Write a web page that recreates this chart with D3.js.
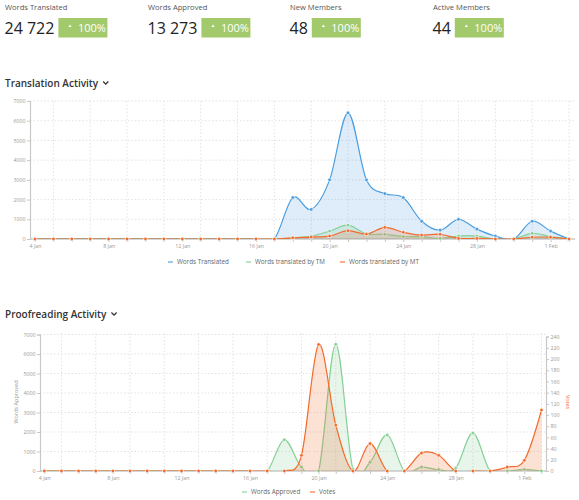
<!DOCTYPE html>
<html>
<head>
<meta charset="utf-8">
<script src="https://cdn.jsdelivr.net/npm/d3@7/dist/d3.min.js"></script>
<style>
	body { margin: 0; background: #fff; font-family: 'Open Sans', sans-serif; }
	svg text { font-family: 'Open Sans', sans-serif; }
</style>
</head>
<body>
<div id="wrap"></div>
<script>
// summary boxes
var statLabels = [ 'Words Translated', 'Words Approved', 'New Members', 'Active Members' ];
var statValues = [ '24 722', '13 273', '48', '44' ];
var statChange = [ '100%', '100%', '100%', '100%' ];

// days shown on both charts
var days = [
	'2020-01-04', '2020-01-05', '2020-01-06', '2020-01-07', '2020-01-08', '2020-01-09',
	'2020-01-10', '2020-01-11', '2020-01-12', '2020-01-13', '2020-01-14', '2020-01-15',
	'2020-01-16', '2020-01-17', '2020-01-18', '2020-01-19', '2020-01-20', '2020-01-21',
	'2020-01-22', '2020-01-23', '2020-01-24', '2020-01-25', '2020-01-26', '2020-01-27',
	'2020-01-28', '2020-01-29', '2020-01-30', '2020-01-31', '2020-02-01', '2020-02-02'
];

// translation activity
var wordsTranslated = [ 0, 0, 0, 0, 0, 0, 0, 0, 0, 0, 0, 0, 0, 0, 2100, 1500, 3000, 6400, 3000, 2300, 2100, 900, 450, 1000, 500, 150, 0, 900, 400, 0 ];
var translatedByTM = [ 0, 0, 0, 0, 0, 0, 0, 0, 0, 0, 0, 0, 0, 0, 50, 150, 400, 700, 260, 240, 120, 120, 30, 150, 150, 0, 0, 290, 120, 0 ];
var translatedByMT = [ 0, 0, 0, 0, 0, 0, 0, 0, 0, 0, 0, 0, 0, 0, 60, 100, 150, 420, 250, 590, 340, 200, 240, 30, 30, 0, 0, 90, 90, 0 ];
var translationTicks = [ 0, 1000, 2000, 3000, 4000, 5000, 6000, 7000 ];

// proofreading activity
var wordsApproved = [ 0, 0, 0, 0, 0, 0, 0, 0, 0, 0, 0, 0, 0, 0, 1600, 200, 0, 6500, 100, 450, 1850, 0, 200, 70, 150, 1950, 0, 0, 80, 0 ];
var votes = [ 0, 0, 0, 0, 0, 0, 0, 0, 0, 0, 0, 0, 0, 0, 0, 28, 226, 82, 0, 49, 0, 0, 32, 28, 0, 0, 0, 7, 19, 109 ];
var approvedTicks = [ 0, 1000, 2000, 3000, 4000, 5000, 6000, 7000 ];
var voteTicks = [ 0, 20, 40, 60, 80, 100, 120, 140, 160, 180, 200, 220, 240 ];

var colors = {
	blue: '#4a9de0',
	green: '#86cf96',
	orange: '#f26b2c',
	badge: '#a3c96d',
	axis: '#c8c8c8',
	grid: '#dcdcdc',
	label: '#999'
};

var parse = d3.utcParse( '%Y-%m-%d' );
var fmt = d3.utcFormat( '%-d %b' );
var dates = days.map( parse );

var svg = d3.select( '#wrap' ).append( 'svg' )
	.attr( 'width', 579 )
	.attr( 'height', 500 );

// ---- stat boxes ----
var statX = [ 5, 148, 290, 433 ];

statLabels.forEach( function ( lab, i ) {
	var g = svg.append( 'g' ).attr( 'transform', 'translate(' + statX[i] + ',0)' );
	g.append( 'text' )
		.attr( 'x', 0 ).attr( 'y', 10 )
		.style( 'font-size', '7.6px' )
		.style( 'fill', '#555' )
		.text( lab );
	var num = g.append( 'text' )
		.attr( 'x', -0.5 ).attr( 'y', 34 )
		.style( 'font-size', '16px' )
		.style( 'fill', '#222' )
		.text( statValues[i] );
	var w = num.node().getComputedTextLength();
	var bx = w + 3.5;
	g.append( 'rect' )
		.attr( 'x', bx ).attr( 'y', 18 )
		.attr( 'width', 49 ).attr( 'height', 19.5 )
		.style( 'fill', colors.badge );
	g.append( 'path' )
		.attr( 'd', 'M' + ( bx + 10 ) + ',27 l1.6,-2.6 l1.6,2.6 z' )
		.style( 'fill', '#fff' );
	g.append( 'text' )
		.attr( 'x', bx + 19.5 ).attr( 'y', 32 )
		.style( 'font-size', '11px' )
		.style( 'fill', '#fff' )
		.text( statChange[i] );
} );

// ---- helpers ----
function title( txt, y ) {
	var tt = svg.append( 'text' )
		.attr( 'x', 5 ).attr( 'y', y )
		.style( 'font-size', '10px' )
		.style( 'font-weight', 600 )
		.style( 'fill', '#333' )
		.text( txt );
	var chevX = 5 + tt.node().getComputedTextLength() + 5;
	svg.append( 'path' )
		.attr( 'd', 'M' + chevX + ',' + ( y - 5.5 ) + ' l2.6,2.6 l2.6,-2.6' )
		.style( 'fill', 'none' )
		.style( 'stroke', '#333' )
		.style( 'stroke-width', 1.3 );
}

function timeAxis( g, x, y0, x0, x1 ) {
	// vertical dotted grid on odd days
	g.selectAll( '.vgrid' )
		.data( dates.filter( function ( d, i ) { return i % 2 === 1; } ) )
		.enter()
		.append( 'line' )
		.attr( 'x1', function ( d ) { return x( d ); } )
		.attr( 'x2', function ( d ) { return x( d ); } )
		.attr( 'y1', y0 )
		.attr( 'y2', y0 - 140 )
		.style( 'stroke', colors.grid )
		.style( 'stroke-dasharray', '1.5,2' )
		.style( 'stroke-width', 0.8 );

	var ax = d3.axisBottom( x )
		.tickValues( dates )
		.tickSize( 3 )
		.tickFormat( function ( d, i ) { return i % 4 === 0 ? fmt( d ) : ''; } );

	var axG = g.append( 'g' )
		.attr( 'transform', 'translate(0,' + y0 + ')' )
		.call( ax );
	axG.select( '.domain' ).remove();
	axG.insert( 'line', ':first-child' )
		.attr( 'x1', x0 ).attr( 'x2', x1 )
		.style( 'stroke', colors.axis )
		.style( 'stroke-width', 1.3 );
	axG.selectAll( '.tick line' ).style( 'stroke', colors.axis );
	axG.selectAll( '.tick text' )
		.attr( 'y', 5 )
		.style( 'font-size', '5.3px' )
		.style( 'fill', colors.label );
}

function valueAxis( g, scale, ticks, xPos, gridX0, gridX1, grid, right ) {
	if ( grid ) {
		g.selectAll( null )
			.data( ticks.filter( function ( t ) { return t > 0; } ) )
			.enter()
			.append( 'line' )
			.attr( 'x1', gridX0 ).attr( 'x2', gridX1 )
			.attr( 'y1', function ( d ) { return scale( d ); } )
			.attr( 'y2', function ( d ) { return scale( d ); } )
			.style( 'stroke', colors.grid )
			.style( 'stroke-dasharray', '1.5,2' )
			.style( 'stroke-width', 0.8 );
	}
	var ax = ( right ? d3.axisRight( scale ) : d3.axisLeft( scale ) )
		.tickValues( ticks )
		.tickFormat( d3.format( 'd' ) )
		.tickSize( 3 )
		.tickPadding( 1.5 );
	var axG = g.append( 'g' )
		.attr( 'transform', 'translate(' + xPos + ',0)' )
		.call( ax );
	axG.select( '.domain' )
		.style( 'stroke', colors.axis )
		.style( 'stroke-width', 1.2 );
	axG.selectAll( '.tick line' ).style( 'stroke', colors.axis );
	axG.selectAll( '.tick text' )
		.style( 'font-size', '5.3px' )
		.style( 'fill', colors.label );
}

function series( g, x, y, vals, color, fillOpacity, clipId ) {
	var pts = vals.map( function ( v, i ) { return [ dates[i], v ]; } );
	var curve = d3.curveCardinal.tension( 0 );
	var area = d3.area()
		.x( function ( d ) { return x( d[0] ); } )
		.y0( y( 0 ) )
		.y1( function ( d ) { return y( d[1] ); } )
		.curve( curve );
	var line = d3.line()
		.x( function ( d ) { return x( d[0] ); } )
		.y( function ( d ) { return y( d[1] ); } )
		.curve( curve );
	var s = g.append( 'g' ).attr( 'clip-path', 'url(#' + clipId + ')' );
	s.append( 'path' )
		.datum( pts )
		.attr( 'd', area )
		.style( 'fill', color )
		.style( 'fill-opacity', fillOpacity );
	s.append( 'path' )
		.datum( pts )
		.attr( 'd', line )
		.style( 'fill', 'none' )
		.style( 'stroke', color )
		.style( 'stroke-width', 1.2 );
	g.selectAll( null )
		.data( pts )
		.enter()
		.append( 'circle' )
		.attr( 'cx', function ( d ) { return x( d[0] ); } )
		.attr( 'cy', function ( d ) { return y( d[1] ); } )
		.attr( 'r', 1.8 )
		.style( 'fill', color )
		.style( 'stroke', '#fff' )
		.style( 'stroke-width', 0.6 );
}

function legend( items, y ) {
	var g = svg.append( 'g' );
	items.forEach( function ( it ) {
		g.append( 'line' )
			.attr( 'x1', it.x ).attr( 'x2', it.x + 5 )
			.attr( 'y1', y ).attr( 'y2', y )
			.style( 'stroke', it.color )
			.style( 'stroke-width', 1.1 );
		g.append( 'text' )
			.attr( 'x', it.x + 9 ).attr( 'y', y + 2.2 )
			.style( 'font-size', '6.3px' )
			.style( 'fill', '#666' )
			.text( it.name );
	} );
}

var defs = svg.append( 'defs' );

// ---- Translation Activity ----
title( 'Translation Activity', 87 );

var t = {
	x: d3.scaleUtc().domain( [ dates[0], dates[dates.length - 1] ] ).range( [ 35, 569 ] ),
	y: d3.scaleLinear().domain( [ 0, 7000 ] ).range( [ 239, 101 ] )
};

defs.append( 'clipPath' ).attr( 'id', 'clipT' )
	.append( 'rect' ).attr( 'x', 30 ).attr( 'y', 90 ).attr( 'width', 545 ).attr( 'height', 149 );

var tg = svg.append( 'g' );
valueAxis( tg, t.y, translationTicks, 30, 30, 575, true, false );
timeAxis( tg, t.x, 239, 30, 575 );
series( tg, t.x, t.y, wordsTranslated, colors.blue, 0.18, 'clipT' );
series( tg, t.x, t.y, translatedByTM, colors.green, 0.22, 'clipT' );
series( tg, t.x, t.y, translatedByMT, colors.orange, 0.2, 'clipT' );

legend( [
	{ name: 'Words Translated', color: colors.blue, x: 168 },
	{ name: 'Words translated by TM', color: colors.green, x: 246 },
	{ name: 'Words translated by MT', color: colors.orange, x: 340 }
], 262 );

// ---- Proofreading Activity ----
title( 'Proofreading Activity', 318 );

var p = {
	x: d3.scaleUtc().domain( [ dates[0], dates[dates.length - 1] ] ).range( [ 44.3, 541.5 ] ),
	y: d3.scaleLinear().domain( [ 0, 7000 ] ).range( [ 471, 334.5 ] ),
	y2: d3.scaleLinear().domain( [ 0, 240 ] ).range( [ 471, 336.7 ] )
};

defs.append( 'clipPath' ).attr( 'id', 'clipP' )
	.append( 'rect' ).attr( 'x', 40 ).attr( 'y', 320 ).attr( 'width', 506 ).attr( 'height', 151 );

var pg = svg.append( 'g' );
valueAxis( pg, p.y, approvedTicks, 40, 40, 546, true, false );
valueAxis( pg, p.y2, voteTicks, 546, 0, 0, false, true );
timeAxis( pg, p.x, 471, 40, 546 );
series( pg, p.x, p.y, wordsApproved, colors.green, 0.2, 'clipP' );
series( pg, p.x, p.y2, votes, colors.orange, 0.2, 'clipP' );

svg.append( 'text' )
	.attr( 'transform', 'translate(18,402) rotate(-90)' )
	.attr( 'text-anchor', 'middle' )
	.style( 'font-size', '5.5px' )
	.style( 'fill', colors.label )
	.text( 'Words Approved' );

svg.append( 'text' )
	.attr( 'transform', 'translate(566,402) rotate(90)' )
	.attr( 'text-anchor', 'middle' )
	.style( 'font-size', '5.5px' )
	.style( 'fill', colors.orange )
	.text( 'Votes' );

legend( [
	{ name: 'Words Approved', color: colors.green, x: 242 },
	{ name: 'Votes', color: colors.orange, x: 310 }
], 492 );
</script>
</body>
</html>
